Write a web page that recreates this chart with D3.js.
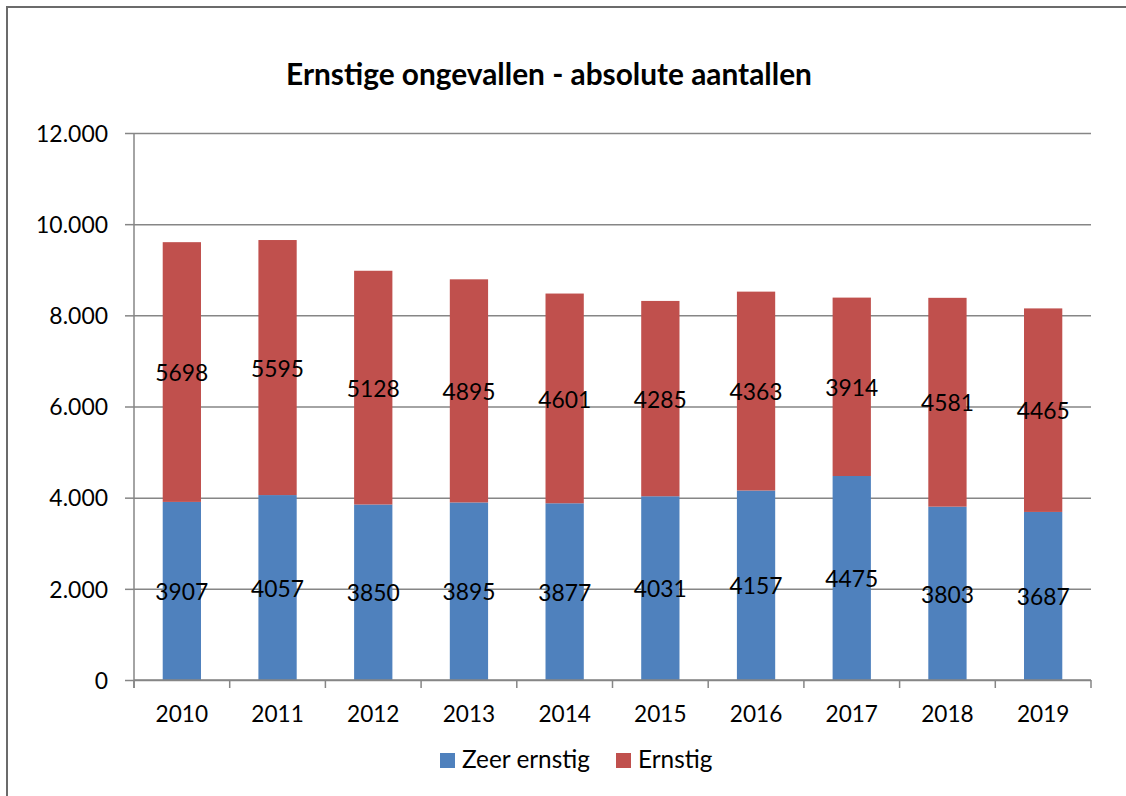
<!DOCTYPE html>
<html>
<head>
<meta charset="utf-8">
<script src="https://cdn.jsdelivr.net/npm/d3@7"></script>
<style>
  html, body { margin: 0; padding: 0; background: #fff; }
  svg { display: block; }
  text { font-family: Lato, "Open Sans", "DejaVu Sans", sans-serif; fill: #000; }
</style>
</head>
<body>
<svg id="chart" width="1126" height="796"></svg>
<script>
const title = "Ernstige ongevallen - absolute aantallen";
const years = ["2010","2011","2012","2013","2014","2015","2016","2017","2018","2019"];
const zeerErnstig = [3907,4057,3850,3895,3877,4031,4157,4475,3803,3687];
const ernstig = [5698,5595,5128,4895,4601,4285,4363,3914,4581,4465];
const seriesNames = ["Zeer ernstig","Ernstig"];
const seriesColors = ["#4F81BD","#C0504D"];
const yTicks = [0,2000,4000,6000,8000,10000,12000];

const svg = d3.select("#chart");
const nl = d3.formatLocale({decimal: ",", thousands: ".", grouping: [3], currency: ["€",""]});
const fmt = nl.format(",");

function fitSize(str, weight, target) {
  const t = svg.append("text").attr("font-size", 100).attr("font-weight", weight).text(str);
  const w = t.node().getComputedTextLength();
  t.remove();
  return 100 * target / w;
}
const fsLabel = fitSize("3907", "normal", 53);
const fsX = fitSize("2010", "normal", 52.5);
const fsY = fitSize("12.000", "normal", 72);
const fsLegend = fitSize("Zeer ernstig", "normal", 128);
const fsTitle = fitSize(title, "bold", 526);

// frame
svg.append("rect").attr("x", 7).attr("y", 7).attr("width", 1140).attr("height", 820)
  .attr("fill", "none").attr("stroke", "#6b6b6b").attr("stroke-width", 2);

const plotL = 134, plotR = 1091, plotT = 133, plotB = 680;
const x = d3.scaleBand().domain(years).range([plotL, plotR]).paddingInner(0.6).paddingOuter(0.3);
const y = d3.scaleLinear().domain([0, 12000]).range([plotB, plotT]);
const gray = "#868686";

// gridlines
const grid = svg.append("g").attr("transform", `translate(${plotL},0)`)
  .call(d3.axisLeft(y).tickValues(yTicks).tickSize(-(plotR - plotL)).tickFormat(""));
grid.select(".domain").remove();
grid.selectAll("line").attr("stroke", gray).attr("stroke-width", 1.5);

// stacked bars
const rows = years.map((yr, i) => ({year: yr, "Zeer ernstig": zeerErnstig[i], "Ernstig": ernstig[i]}));
const stack = d3.stack().keys(seriesNames)(rows);
const color = d3.scaleOrdinal().domain(seriesNames).range(seriesColors);

const layers = svg.append("g").selectAll("g").data(stack).join("g")
  .attr("fill", d => color(d.key));
layers.selectAll("rect").data(d => d).join("rect")
  .attr("x", d => x(d.data.year))
  .attr("width", x.bandwidth())
  .attr("y", d => y(d[1]))
  .attr("height", d => y(d[0]) - y(d[1]));

// data labels
const labels = svg.append("g");
stack.forEach(layer => {
  labels.selectAll(null).data(layer).join("text")
    .attr("x", d => x(d.data.year) + x.bandwidth() / 2)
    .attr("y", d => (y(d[0]) + y(d[1])) / 2 + 1)
    .attr("dy", "0.36em")
    .attr("text-anchor", "middle")
    .attr("font-size", fsLabel)
    .text(d => d[1] - d[0]);
});

// y axis
const yAxis = svg.append("g").attr("transform", `translate(${plotL},0)`)
  .call(d3.axisLeft(y).tickValues(yTicks).tickSize(9).tickPadding(17).tickFormat(fmt));
yAxis.select(".domain").attr("stroke", gray).attr("stroke-width", 1.5)
  .attr("d", `M0,${plotT}V${plotB + 8}`);
yAxis.selectAll(".tick line").attr("stroke", gray).attr("stroke-width", 1.5);
yAxis.selectAll(".tick text").attr("font-size", fsY).attr("font-family", null)
  .attr("dy", "0.36em").attr("fill", "#000");

// x axis
const xAxis = svg.append("g").attr("transform", `translate(0,${plotB})`)
  .call(d3.axisBottom(x).tickSize(0).tickPadding(0));
xAxis.select(".domain").attr("stroke", gray).attr("stroke-width", 1.5).attr("d", `M${plotL},0H${plotR}`);
xAxis.selectAll(".tick text").attr("font-size", fsX).attr("font-family", null)
  .attr("dy", null).attr("y", 42).attr("fill", "#000");
const bounds = years.map(yr => x(yr) - x.step() * x.paddingInner() / 2).concat([plotR]);
xAxis.append("g").selectAll("line").data(bounds).join("line")
  .attr("x1", d => d).attr("x2", d => d).attr("y1", 0).attr("y2", 8)
  .attr("stroke", gray).attr("stroke-width", 1.5);

// title
svg.append("text").attr("x", 549).attr("y", 85).attr("text-anchor", "middle")
  .attr("font-weight", "bold").attr("font-size", fsTitle).text(title);

// legend
const legendPos = [440, 616];
const legend = svg.append("g").selectAll("g").data(seriesNames).join("g")
  .attr("transform", (d, i) => `translate(${legendPos[i]},753)`);
legend.append("rect").attr("width", 15).attr("height", 15).attr("fill", d => color(d));
legend.append("text").attr("x", 22).attr("y", 15).attr("font-size", fsLegend).text(d => d);
</script>
</body>
</html>
